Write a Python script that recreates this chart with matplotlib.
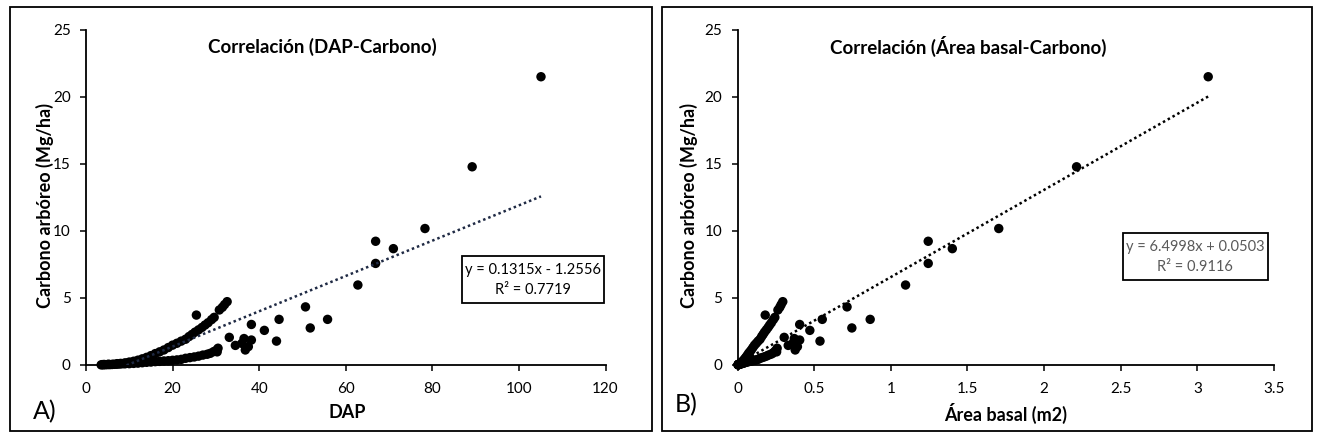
import matplotlib
matplotlib.use("Agg")
import matplotlib.pyplot as plt
from matplotlib.patches import Rectangle
import numpy as np

plt.rcParams['font.family'] = ['Lato', 'DejaVu Sans']

# ---- data ----
dap = [3.5, 3.8, 4.0, 4.2, 4.5, 5.0, 5.2, 5.5, 6.0, 6.2, 6.5, 7.0, 7.2, 7.5, 8.0, 8.5, 9.0, 9.5,
       10.0, 11.0, 12.0, 13.0, 14.0, 15.0, 16.0, 17.0, 18.0, 19.0, 20.0, 21.0, 22.0, 23.0, 24.0,
       25.0, 26.0, 27.0, 28.0, 28.7, 29.5, 30.2, 30.5, 30.3,
       8.0, 9.0, 10.0, 11.0, 12.0, 13.0, 14.0, 15.0, 16.0, 17.0, 18.0, 19.0, 20.0, 21.0, 22.0,
       23.0, 23.8, 24.5, 25.2, 26.0, 26.8, 27.5, 28.2, 29.0, 29.6, 30.8, 31.5, 32.0, 32.6, 25.5,
       33.1, 34.5, 36.0, 36.5, 36.8, 37.5, 38.2, 38.2, 41.2, 44.0, 44.6, 50.7, 51.8, 55.8,
       62.8, 66.9, 66.9, 71.0, 78.3, 89.2, 105.1]

area_basal = [0.0034, 0.0040, 0.0044, 0.0049, 0.0056, 0.0070, 0.0075, 0.0084, 0.0100, 0.0107,
              0.0117, 0.0136, 0.0144, 0.0156, 0.0178, 0.0201, 0.0225, 0.0251,
              0.0278, 0.0336, 0.0400, 0.0470, 0.0545, 0.0626, 0.0712, 0.0803, 0.0900, 0.1004,
              0.1112, 0.1226, 0.1346, 0.1471, 0.1601, 0.1738, 0.1879, 0.2027, 0.2180, 0.2290,
              0.2419, 0.2535, 0.2586, 0.2552,
              0.0178, 0.0225, 0.0278, 0.0336, 0.0400, 0.0470, 0.0545, 0.0626, 0.0712, 0.0803,
              0.0900, 0.1004, 0.1112, 0.1226, 0.1346, 0.1471, 0.1575, 0.1669, 0.1765, 0.1879,
              0.1997, 0.2102, 0.2211, 0.2338, 0.2436, 0.2637, 0.2758, 0.2847, 0.2954, 0.1808,
              0.3046, 0.3309, 0.3603, 0.3704, 0.3765, 0.3909, 0.4057, 0.4057, 0.4719, 0.5382,
              0.5530, 0.7146, 0.7460, 0.8656, 1.0964, 1.2442, 1.2442, 1.4014, 1.7044, 2.2120,
              3.0708]

carbono = [0.01, 0.03, 0.02, 0.04, 0.02, 0.03, 0.06, 0.03, 0.04, 0.05, 0.05, 0.06, 0.10, 0.07,
           0.08, 0.10, 0.09, 0.14, 0.10, 0.12, 0.14, 0.17, 0.20, 0.22, 0.25, 0.27, 0.30, 0.32,
           0.35, 0.38, 0.42, 0.50, 0.55, 0.60, 0.66, 0.74, 0.80, 0.87, 1.00, 1.12, 1.25, 0.98,
           0.12, 0.16, 0.22, 0.28, 0.36, 0.46, 0.57, 0.70, 0.85, 0.98, 1.12, 1.30, 1.48, 1.62,
           1.78, 1.92, 2.12, 2.28, 2.45, 2.62, 2.80, 2.98, 3.15, 3.38, 3.55, 4.10, 4.30, 4.50,
           4.72, 3.72,
           2.06, 1.46, 1.61, 1.97, 1.12, 1.37, 3.02, 1.86, 2.58, 1.78, 3.40, 4.33, 2.76, 3.40,
           5.96, 9.22, 7.57, 8.67, 10.17, 14.77, 21.48]

slope_a, icpt_a, r2_a = 0.1315, -1.2556, 0.7719
slope_b, icpt_b, r2_b = 6.4998, 0.0503, 0.9116

W, H = 1320, 438
fig = plt.figure(figsize=(W / 100, H / 100), dpi=100)

def fx(px):
    return px / W

def fy(py):
    return 1 - py / H

# outer frames
for x0, x1 in [(10, 652), (662, 1312)]:
    fig.patches.append(Rectangle((fx(x0), fy(431)), fx(x1) - fx(x0), fy(7) - fy(431),
                                 transform=fig.transFigure, fill=False, edgecolor='black',
                                 linewidth=1.3))

ax1 = fig.add_axes([fx(86), fy(365), fx(605.5) - fx(86), fy(29.5) - fy(365)])
ax2 = fig.add_axes([fx(737.5), fy(365), fx(1274) - fx(737.5), fy(29.5) - fy(365)])

def style(ax):
    for s in ['top', 'right']:
        ax.spines[s].set_visible(False)
    for s in ['left', 'bottom']:
        ax.spines[s].set_linewidth(1.3)
        ax.spines[s].set_color('black')
    ax.tick_params(axis='both', direction='out', length=4, width=1.1, labelsize=11,
                   colors='black')
    ax.tick_params(axis='x', pad=8)
    ax.tick_params(axis='y', pad=7)
    ax.set_ylim(0, 25)
    ax.set_yticks([0, 5, 10, 15, 20, 25])

style(ax1)
style(ax2)

ax1.set_xlim(0, 120)
ax1.set_xticks([0, 20, 40, 60, 80, 100, 120])
ax2.set_xlim(0, 3.5)
ax2.set_xticks([0, 0.5, 1, 1.5, 2, 2.5, 3, 3.5])
ax2.set_xticklabels(['0', '0.5', '1', '1.5', '2', '2.5', '3', '3.5'])

ax1.scatter(dap, carbono, s=46, color='black', edgecolors='none', clip_on=False, zorder=3)
ax2.scatter(area_basal, carbono, s=46, color='black', edgecolors='none', clip_on=False, zorder=3)

xa = np.array([min(dap), max(dap)])
ax1.plot(xa, slope_a * xa + icpt_a, linestyle=(0, (1, 1.2)), color='#1f2a44', lw=1.8, zorder=4)
xb = np.array([0.0, max(area_basal)])
ax2.plot(xb, slope_b * xb + icpt_b, linestyle=(0, (1, 1.2)), color='black', lw=1.8, zorder=4)

# titles
fig.text(fx(322), fy(47), 'Correlación (DAP-Carbono)', ha='center', va='center',
         fontsize=13.5, fontweight='bold')
fig.text(fx(968), fy(46), 'Correlación (Área basal-Carbono)', ha='center', va='center',
         fontsize=13.5, fontweight='bold')

# axis labels
fig.text(fx(45), fy(205), 'Carbono arbóreo (Mg/ha)', ha='center', va='center', rotation=90,
         fontsize=13, fontweight='bold')
fig.text(fx(689), fy(205), 'Carbono arbóreo (Mg/ha)', ha='center', va='center', rotation=90,
         fontsize=13, fontweight='bold')
fig.text(fx(347), fy(413), 'DAP', ha='center', va='center', fontsize=13, fontweight='bold')
fig.text(fx(1006), fy(413), 'Área basal (m2)', ha='center', va='center', fontsize=13,
         fontweight='bold')

# panel letters
fig.text(fx(45), fy(412), 'A)', ha='center', va='center', fontsize=18)
fig.text(fx(686), fy(405), 'B)', ha='center', va='center', fontsize=18)

# equation boxes
def eqbox(x0, x1, y0, y1, l1, l2, color):
    fig.patches.append(Rectangle((fx(x0), fy(y1)), fx(x1) - fx(x0), fy(y0) - fy(y1),
                                 transform=fig.transFigure, fill=False, edgecolor='black',
                                 linewidth=1.3))
    cx = (x0 + x1) / 2
    hgt = y1 - y0
    fig.text(fx(cx), fy(y0 + hgt * 0.31), l1, ha='center', va='center', fontsize=10.5, color=color)
    fig.text(fx(cx), fy(y0 + hgt * 0.72), l2, ha='center', va='center', fontsize=10.5, color=color)

eqbox(462, 604, 255.7, 302.7, f'y = {slope_a}x - {abs(icpt_a)}', f'R² = {r2_a}', 'black')
eqbox(1122.7, 1268, 232.7, 280, f'y = {slope_b}x + {icpt_b}', f'R² = {r2_b}', '#595959')

fig.savefig('out.png', dpi=100)
